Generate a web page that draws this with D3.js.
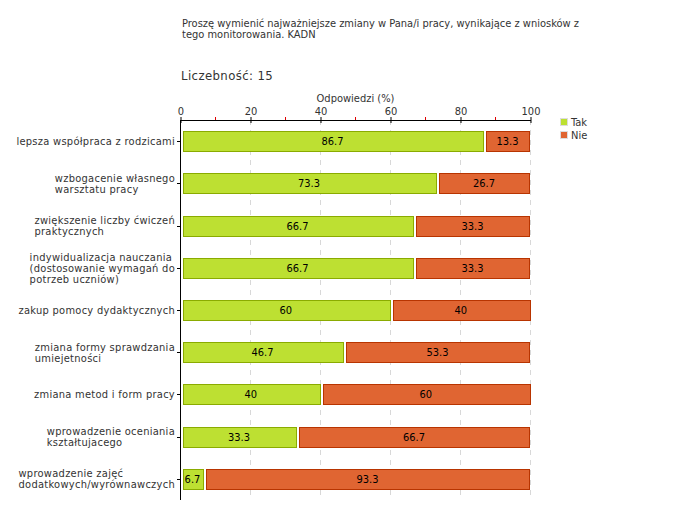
<!DOCTYPE html>
<html><head><meta charset="utf-8">
<script src="https://cdn.jsdelivr.net/npm/d3@7"></script>
<style>body{margin:0;background:#fff}svg{display:block}text{font-family:"DejaVu Sans Condensed","DejaVu Sans",sans-serif}</style>
</head><body>
<svg id="c" width="680" height="520"></svg>
<script>
const categories = [
  ["lepsza współpraca z rodzicami"],
  ["wzbogacenie własnego","warsztatu pracy"],
  ["zwiększenie liczby ćwiczeń","praktycznych"],
  ["indywidualizacja nauczania","(dostosowanie wymagań do","potrzeb uczniów)"],
  ["zakup pomocy dydaktycznych"],
  ["zmiana formy sprawdzania","umiejetności"],
  ["zmiana metod i form pracy"],
  ["wprowadzenie oceniania","kształtujacego"],
  ["wprowadzenie zajęć","dodatkowych/wyrównawczych"]
];
const takValues = [86.7, 73.3, 66.7, 66.7, 60, 46.7, 40, 33.3, 6.7];
const nieValues = [13.3, 26.7, 33.3, 33.3, 40, 53.3, 60, 66.7, 93.3];
const majorTicks = [0, 20, 40, 60, 80, 100];
const minorTicks = [10, 30, 50, 70, 90];
const seriesNames = ["Tak", "Nie"];
const titleLines = ["Proszę wymienić najważniejsze zmiany w Pana/i pracy, wynikające z wniosków z","tego monitorowania. KADN"];
const countLabel = "Liczebność: 15";
const axisTitle = "Odpowiedzi (%)";

const svg = d3.select("#c");
const fill = {Tak:"#bde032", Nie:"#e06532"};
const stroke = {Tak:"#8aab00", Nie:"#b83400"};
const x = d3.scaleLinear().domain([0,100]).range([180.5,530.5]);
const y = d3.scaleBand().domain(d3.range(categories.length)).range([120,500]);
const txt = "#333";

// title
svg.append("text").attr("x",182).attr("y",27).attr("font-size",11).attr("fill",txt)
  .selectAll("tspan").data(titleLines).join("tspan").attr("x",182).attr("dy",(d,i)=>i?11:0).text(d=>d);
svg.append("text").attr("x",181).attr("y",80).attr("font-size",13).attr("fill",txt).attr("letter-spacing",0.4).text(countLabel);
svg.append("text").attr("x",(x(0)+x(100))/2).attr("y",102).attr("text-anchor","middle").attr("font-size",11).attr("fill",txt).text(axisTitle);

// grid
svg.append("g").selectAll("line").data(majorTicks.slice(1)).join("line")
  .attr("x1",d=>x(d)).attr("x2",d=>x(d)).attr("y1",120).attr("y2",500)
  .attr("stroke","#d8d8d8").attr("stroke-dasharray","5,5");

// axis top
const ax = svg.append("g").attr("transform","translate(0,120)");
ax.call(d3.axisTop(x).tickValues(majorTicks).tickSize(3).tickSizeOuter(0).tickFormat(d3.format("d")));
ax.select(".domain").attr("stroke","#000");
ax.selectAll(".tick line").attr("y1",3).attr("y2",-3).attr("stroke","#000");
ax.selectAll(".tick text").attr("font-size",11).attr("fill",txt).attr("font-family",null).attr("y",-5);
ax.selectAll(".minor").data(minorTicks).join("line").attr("class","minor")
  .attr("x1",d=>x(d)).attr("x2",d=>x(d)).attr("y1",-3).attr("y2",0).attr("stroke","#e00000");

// left axis
const ly = svg.append("g");
ly.append("line").attr("x1",180.5).attr("x2",180.5).attr("y1",120).attr("y2",500).attr("stroke","#000");
ly.selectAll(".tk").data(categories).join("line").attr("class","tk")
  .attr("x1",177).attr("x2",180.5).attr("y1",(d,i)=>Math.round(y(i)+y.bandwidth()/2)+0.5).attr("y2",(d,i)=>Math.round(y(i)+y.bandwidth()/2)+0.5).attr("stroke","#000");
categories.forEach((lines,i)=>{
  const cy = y(i)+y.bandwidth()/2;
  const t = ly.append("text").attr("font-size",11).attr("fill",txt).attr("letter-spacing",0.28);
  const n = lines.length;
  lines.forEach((l,j)=>t.append("tspan").attr("y",cy + (j-(n-1)/2)*11 + 4).text(l));
  let w = 0; t.selectAll("tspan").each(function(){w=Math.max(w,this.getComputedTextLength());});
  t.selectAll("tspan").attr("x",175-w);
});

// bars
const bh = 20;
const rows = categories.map((c,i)=>({i, segs:[{s:"Tak",x0:0,v:takValues[i]},{s:"Nie",x0:takValues[i],v:nieValues[i]}]}));
const g = svg.append("g");
rows.forEach(r=>{
  const cy = y(r.i)+y.bandwidth()/2;
  r.segs.forEach(sg=>{
    const x0 = x(sg.x0)+2, x1 = x(sg.x0+sg.v)-1.5;
    g.append("rect").attr("x",Math.round(x0)+0.5).attr("y",Math.round(cy-bh/2)+0.5)
      .attr("width",Math.round(x1-x0)).attr("height",bh)
      .attr("fill",fill[sg.s]).attr("stroke",stroke[sg.s]);
    g.append("text").attr("x",(x0+x1)/2).attr("y",cy+4).attr("text-anchor","middle")
      .attr("font-size",11).attr("fill","#000").text(sg.v);
  });
});

// legend
const lg = svg.append("g");
seriesNames.forEach((s,i)=>{
  lg.append("rect").attr("x",560.5).attr("y",118.5+i*13).attr("width",7).attr("height",7).attr("fill",fill[s]).attr("stroke","#ddd");
  lg.append("text").attr("x",571).attr("y",126+i*13).attr("font-size",11).attr("fill",txt).text(s);
});
</script></body></html>
